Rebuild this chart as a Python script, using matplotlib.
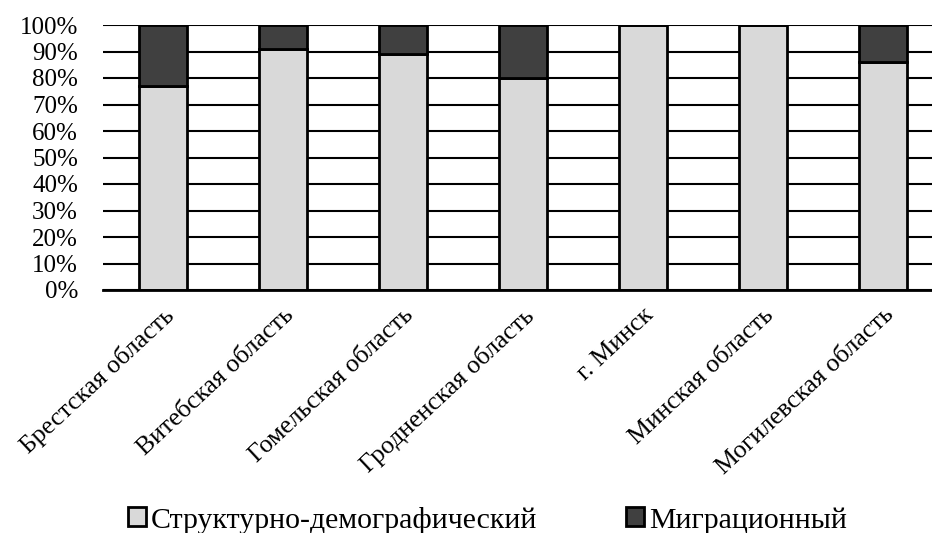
import matplotlib
matplotlib.use("Agg")
import matplotlib.pyplot as plt
import numpy as np

# Data (share, %)
regions = ["Брестская область", "Витебская область", "Гомельская область",
           "Гродненская область", "г. Минск", "Минская область",
           "Могилевская область"]
structural = [77, 91, 89, 80, 100, 100, 86]
migration = [23, 9, 11, 20, 0, 0, 14]
series_names = ["Структурно-демографический", "Миграционный"]
yticks = [0, 10, 20, 30, 40, 50, 60, 70, 80, 90, 100]

plt.rcParams["font.family"] = ["Liberation Serif", "DejaVu Serif"]

fig = plt.figure(figsize=(9.32, 5.33), dpi=100)
ax = fig.add_axes([103 / 932, 1 - 290 / 533, 1 - 103 / 932, 265 / 533])

x = np.arange(len(regions))
ax.bar(x, structural, width=0.4, color="#d9d9d9", edgecolor="black",
       linewidth=2, label=series_names[0], zorder=3)
ax.bar(x, migration, width=0.4, bottom=structural, color="#404040",
       edgecolor="black", linewidth=2, label=series_names[1], zorder=3)

ax.set_ylim(0, 100)
ax.set_xlim(-0.5, 6.5 - 11 / 120)
ax.set_yticks(yticks)
ax.set_yticklabels([f"{v}%" for v in yticks], fontsize=18)
ax.yaxis.grid(True, color="black", linewidth=1.5, zorder=0)
ax.tick_params(axis="y", length=0, pad=18)
ax.tick_params(axis="x", length=0, pad=10)
ax.set_xticks(x)
ax.set_xticklabels(regions, rotation=43, ha="right", va="top",
                   rotation_mode="anchor", fontsize=18.5)
for s in ["left", "right", "top"]:
    ax.spines[s].set_visible(False)
ax.spines["bottom"].set_linewidth(2)
ax.spines["bottom"].set_zorder(4)

fig.legend(loc="center", bbox_to_anchor=(0.523, 1 - 520 / 533), ncol=2,
           frameon=False, fontsize=21.5, handlelength=0.6, handleheight=0.6,
           handletextpad=0.15, columnspacing=3.0)

fig.savefig("out.png", dpi=100)
